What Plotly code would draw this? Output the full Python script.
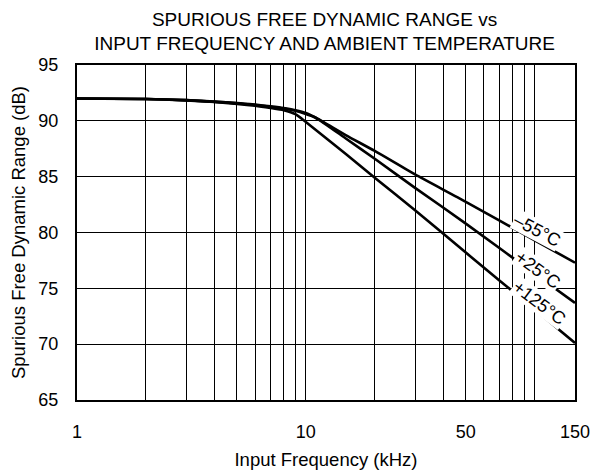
import plotly.graph_objects as go
import math

# Data
freq_khz = [1, 2, 3, 4, 5, 6, 7, 8, 9, 10, 11, 15, 20, 30, 50, 100, 150]
sfdr_m55 = [92.0, 91.95, 91.85, 91.72, 91.6, 91.45, 91.3, 91.15, 90.95, 90.7, 90.3, 88.7, 87.3, 85.2, 82.75, 79.3, 77.3]
sfdr_p25 = [92.0, 91.95, 91.85, 91.7, 91.58, 91.42, 91.25, 91.1, 90.9, 90.6, 90.3, 88.4, 86.6, 84.0, 80.8, 76.3, 73.7]
freq_125 = [1, 2, 3, 4, 5, 6, 7, 8, 9, 10, 15, 20, 30, 50, 100, 150]
sfdr_p125 = [92.0, 91.95, 91.82, 91.68, 91.52, 91.35, 91.15, 90.95, 90.6, 89.9, 87.0, 84.9, 82.0, 78.2, 73.1, 70.1]

series_names = ["–55°C", "+25°C", "+125°C"]

x_grid_vals = [1, 2, 3, 4, 5, 6, 7, 8, 9, 10, 20, 30, 40, 50, 60, 70, 80, 90, 100, 150]
x_tick_text = ["1", "", "", "", "", "", "", "", "", "10", "", "", "", "50", "", "", "", "", "", "150"]
y_tick_vals = [65, 70, 75, 80, 85, 90, 95]

FONT = "Liberation Sans, Arial, sans-serif"

fig = go.Figure()
line_style = dict(color="black", width=2.6, shape="spline", smoothing=0.6)
fig.add_trace(go.Scatter(x=freq_khz, y=sfdr_m55, mode="lines", line=line_style, name=series_names[0]))
fig.add_trace(go.Scatter(x=freq_khz, y=sfdr_p25, mode="lines", line=line_style, name=series_names[1]))
fig.add_trace(go.Scatter(x=freq_125, y=sfdr_p125, mode="lines", line=line_style, name=series_names[2]))

label_pos = [(102, 80.2, 28), (103, 76.6, 36), (105, 73.7, 37)]
for name, (lx, ly, ang) in zip(series_names, label_pos):
    fig.add_annotation(x=math.log10(lx), y=ly, xref="x", yref="y", text=name,
                       showarrow=False, textangle=ang, bgcolor="white",
                       font=dict(family=FONT, size=18, color="black"), borderpad=0)

# page body has an 8px margin: figure is sized/margined to put the plot area at
# page x 77..575, y 65..400
fig.update_layout(
    width=595, height=464,
    margin=dict(l=69, r=28, t=57, b=72),
    paper_bgcolor="white", plot_bgcolor="white",
    showlegend=False,
    font=dict(family=FONT, size=18, color="black"),
    title=dict(text="SPURIOUS FREE DYNAMIC RANGE vs<br>INPUT FREQUENCY AND AMBIENT TEMPERATURE",
               x=0.532, xanchor="center", y=0.962, yanchor="top",
               font=dict(family=FONT, size=19, color="black")),
)
fig.update_xaxes(type="log", range=[0, math.log10(150)], automargin=False,
                 tickmode="array", tickvals=x_grid_vals, ticktext=x_tick_text,
                 showgrid=True, gridcolor="black", gridwidth=1,
                 showline=True, linecolor="black", linewidth=2, mirror=True,
                 ticks="", tickfont=dict(size=18), ticklabelstandoff=14,
                 title=dict(text="Input Frequency (kHz)", font=dict(size=18.5), standoff=12),
                 zeroline=False)
fig.update_yaxes(range=[65, 95], tickmode="array", tickvals=y_tick_vals, automargin=False,
                 showgrid=True, gridcolor="black", gridwidth=1,
                 showline=True, linecolor="black", linewidth=2, mirror=True,
                 ticks="", tickfont=dict(size=18), ticklabelstandoff=13,
                 title=dict(text="Spurious Free Dynamic Range (dB)", font=dict(size=18.5), standoff=10),
                 zeroline=False)

fig.write_html("out.html")
